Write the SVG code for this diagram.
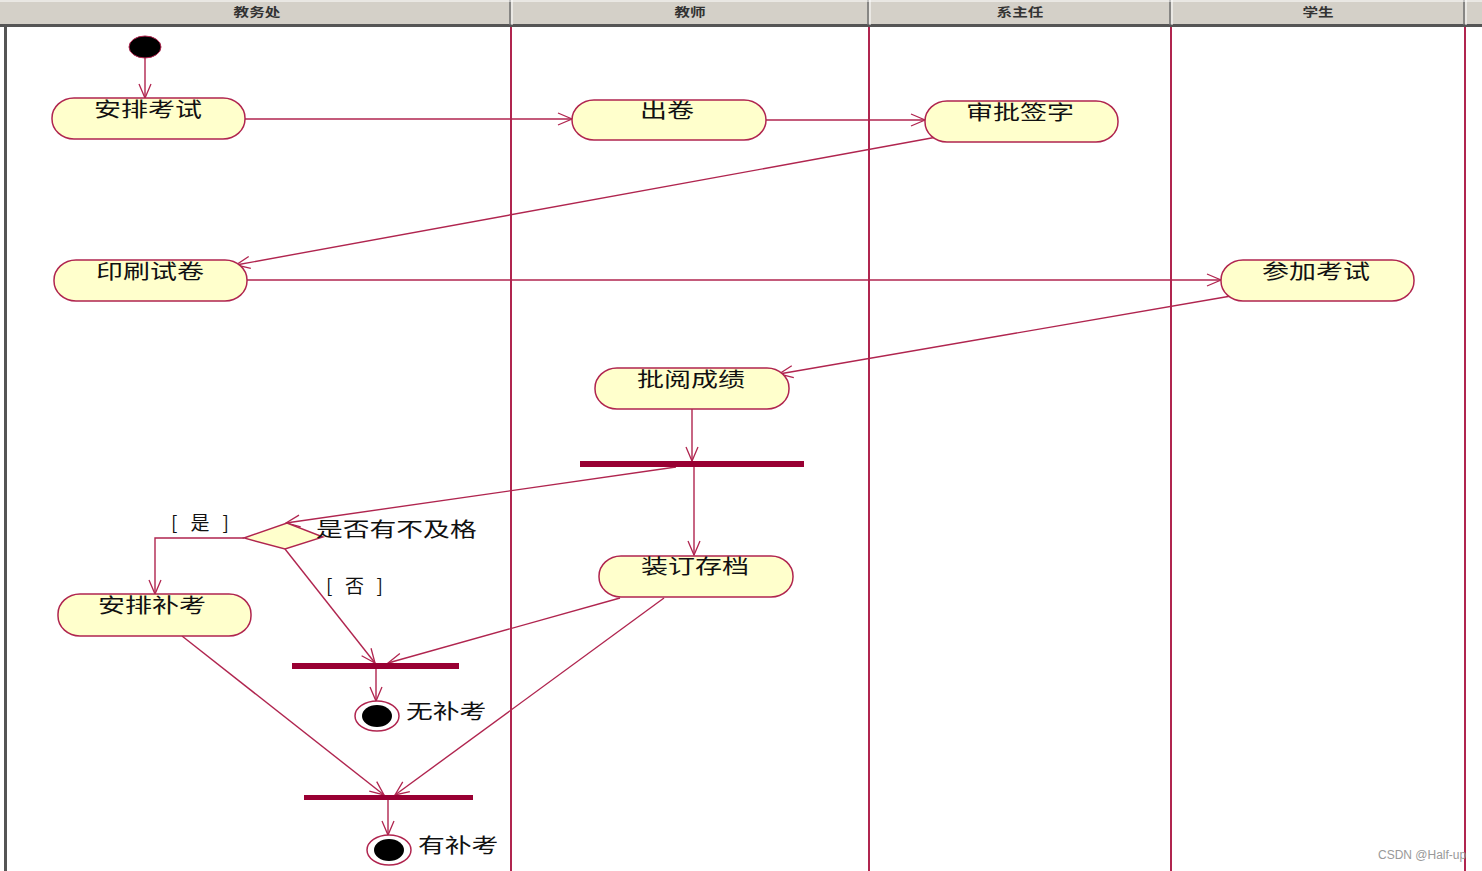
<svg xmlns="http://www.w3.org/2000/svg" width="1482" height="871" viewBox="0 0 1482 871">
<style>
.hdr{fill:#d4d0c8;stroke:none}
.hsep{stroke:#6e6e6e;stroke-width:1.5}
.hlabel{font-family:"Noto Sans CJK SC","Liberation Sans",sans-serif;font-size:12px;font-weight:bold;fill:#333;text-anchor:middle}
.lane{stroke:#b0254f;stroke-width:2}
.act{fill:#ffffcc;stroke:#b0254f;stroke-width:1.5}
.alabel{font-family:"Noto Sans CJK SC","Liberation Sans",sans-serif;font-size:20px;fill:#111;text-anchor:middle}
.lbl{font-family:"Noto Sans CJK SC","Liberation Sans",sans-serif;font-size:20px;fill:#111}
.guard{font-family:"Noto Sans CJK SC","Liberation Sans",sans-serif;font-size:19px;fill:#111}
.bar{fill:#990033}
.conn{fill:none;stroke:#b0254f;stroke-width:1.4}
</style>
<defs>
<marker id="arr" markerUnits="userSpaceOnUse" markerWidth="20" markerHeight="20" refX="16" refY="8" orient="auto">
<path d="M2,2 L16,8 L2,14" fill="none" stroke="#b0254f" stroke-width="1.3"/>
</marker>
</defs>
<rect width="1482" height="871" fill="#ffffff"/>
<g id="header">
<rect class="hdr" x="0" y="0" width="1482" height="25"/>
<rect x="0" y="24" width="1482" height="3" fill="#555"/>
<line class="hsep" x1="510" y1="0" x2="510" y2="25"/>
<line x1="512" y1="0" x2="512" y2="25" stroke="#fff" stroke-width="1"/>
<line class="hsep" x1="868" y1="0" x2="868" y2="25"/>
<line x1="870" y1="0" x2="870" y2="25" stroke="#fff" stroke-width="1"/>
<line class="hsep" x1="1170" y1="0" x2="1170" y2="25"/>
<line x1="1172" y1="0" x2="1172" y2="25" stroke="#fff" stroke-width="1"/>
<line class="hsep" x1="1464" y1="0" x2="1464" y2="25"/>
<line x1="1466" y1="0" x2="1466" y2="25" stroke="#fff" stroke-width="1"/>
<line x1="0" y1="1" x2="1482" y2="1" stroke="#fff" stroke-width="1"/>
<text class="hlabel" transform="translate(257,17) scale(1.3,1)">教务处</text>
<text class="hlabel" transform="translate(690,17) scale(1.3,1)">教师</text>
<text class="hlabel" transform="translate(1020,17) scale(1.3,1)">系主任</text>
<text class="hlabel" transform="translate(1318,17) scale(1.3,1)">学生</text>
</g>
<g id="lanes">
<rect x="4" y="27" width="3" height="844" fill="#555"/>
<line class="lane" x1="511" y1="27" x2="511" y2="871"/>
<line class="lane" x1="869" y1="27" x2="869" y2="871"/>
<line class="lane" x1="1171" y1="27" x2="1171" y2="871"/>
<line class="lane" x1="1465" y1="27" x2="1465" y2="871"/>
</g>
<g id="connectors">
<line class="conn" x1="145" y1="58" x2="145" y2="98" marker-end="url(#arr)"/>
<line class="conn" x1="245" y1="119" x2="572" y2="119" marker-end="url(#arr)"/>
<line class="conn" x1="766" y1="120" x2="925" y2="120" marker-end="url(#arr)"/>
<line class="conn" x1="937" y1="137" x2="236" y2="265" marker-end="url(#arr)"/>
<line class="conn" x1="247" y1="280" x2="1221" y2="280" marker-end="url(#arr)"/>
<line class="conn" x1="1231" y1="296" x2="779" y2="374" marker-end="url(#arr)"/>
<line class="conn" x1="692" y1="409" x2="692" y2="461" marker-end="url(#arr)"/>
<line class="conn" x1="676" y1="467" x2="286" y2="523" marker-end="url(#arr)"/>
<line class="conn" x1="694" y1="467" x2="694" y2="555" marker-end="url(#arr)"/>
<polyline class="conn" points="244,538 155,538 155,594" marker-end="url(#arr)"/>
<line class="conn" x1="285" y1="549" x2="375" y2="663" marker-end="url(#arr)"/>
<line class="conn" x1="620" y1="598" x2="388" y2="663" marker-end="url(#arr)"/>
<line class="conn" x1="376" y1="669" x2="376" y2="701" marker-end="url(#arr)"/>
<line class="conn" x1="182" y1="636" x2="384" y2="795" marker-end="url(#arr)"/>
<line class="conn" x1="664" y1="598" x2="395" y2="795" marker-end="url(#arr)"/>
<line class="conn" x1="388" y1="800" x2="388" y2="835" marker-end="url(#arr)"/>
<text class="guard" x="171" y="530" textLength="58" lengthAdjust="spacing">[ 是 ]</text>
<text class="guard" x="326" y="593" textLength="57" lengthAdjust="spacing">[ 否 ]</text>
</g>
<g id="start">
<ellipse cx="145" cy="47" rx="16" ry="11" fill="#000" stroke="#b0254f" stroke-width="1"/>
</g>
<g id="n-anpaikaoshi">
<rect class="act" x="52" y="98" width="193" height="41" rx="22" ry="20"/>
<text class="alabel" transform="translate(148,117) scale(1.35,1)">安排考试</text>
</g>
<g id="n-chujuan">
<rect class="act" x="572" y="100" width="194" height="40" rx="22" ry="20"/>
<text class="alabel" transform="translate(667,118) scale(1.35,1)">出卷</text>
</g>
<g id="n-shenpi">
<rect class="act" x="925" y="101" width="193" height="41" rx="22" ry="20"/>
<text class="alabel" transform="translate(1020,120) scale(1.35,1)">审批签字</text>
</g>
<g id="n-yinshua">
<rect class="act" x="54" y="260" width="193" height="41" rx="22" ry="20"/>
<text class="alabel" transform="translate(150,279) scale(1.35,1)">印刷试卷</text>
</g>
<g id="n-canjia">
<rect class="act" x="1221" y="260" width="193" height="41" rx="22" ry="20"/>
<text class="alabel" transform="translate(1316,279) scale(1.35,1)">参加考试</text>
</g>
<g id="n-piyue">
<rect class="act" x="595" y="368" width="194" height="41" rx="22" ry="20"/>
<text class="alabel" transform="translate(691,387) scale(1.35,1)">批阅成绩</text>
</g>
<g id="fork1">
<rect class="bar" x="580" y="461" width="224" height="6"/>
</g>
<g id="decision">
<polygon points="244,538 287,523 323,537 285,549" fill="#ffffcc" stroke="#b0254f" stroke-width="1.4"/>
<text class="lbl" transform="translate(316,537) scale(1.34,1)">是否有不及格</text>
</g>
<g id="n-zhuangding">
<rect class="act" x="599" y="556" width="194" height="41" rx="22" ry="20"/>
<text class="alabel" transform="translate(695,574) scale(1.35,1)">装订存档</text>
</g>
<g id="n-bukao">
<rect class="act" x="58" y="594" width="193" height="42" rx="22" ry="20"/>
<text class="alabel" transform="translate(152,613) scale(1.35,1)">安排补考</text>
</g>
<g id="join1">
<rect class="bar" x="292" y="663" width="167" height="6"/>
</g>
<g id="end1">
<ellipse cx="377" cy="716" rx="22" ry="15" fill="#fff" stroke="#b0254f" stroke-width="1.5"/>
<ellipse cx="377" cy="716" rx="15" ry="11" fill="#000"/>
<text class="lbl" transform="translate(406,719) scale(1.34,1)">无补考</text>
</g>
<g id="join2">
<rect class="bar" x="304" y="795" width="169" height="5"/>
</g>
<g id="end2">
<ellipse cx="389" cy="850" rx="22" ry="15" fill="#fff" stroke="#b0254f" stroke-width="1.5"/>
<ellipse cx="389" cy="850" rx="15" ry="11" fill="#000"/>
<text class="lbl" transform="translate(418,853) scale(1.34,1)">有补考</text>
</g>
<text x="1378" y="859" font-family="Liberation Sans, sans-serif" font-size="12" fill="#999">CSDN @Half-up</text>
</svg>
